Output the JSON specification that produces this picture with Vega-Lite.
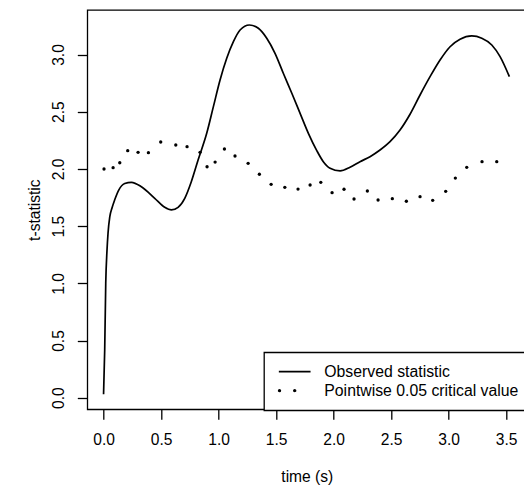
{
  "$schema": "https://vega.github.io/schema/vega-lite/v6.json",
  "autosize": {"type": "none"},
  "padding": {"left": 87.3, "top": 10, "right": -2.3, "bottom": 77.7},
  "width": 439,
  "height": 399.3,
  "background": "white",
  "config": {
    "view": {"stroke": "black", "strokeWidth": 1.3},
    "font": "Liberation Sans"
  },
  "data": {
    "values": [
      {"series": "Observed statistic", "t": 0.0, "v": 0.03},
      {"series": "Observed statistic", "t": 0.010, "v": 0.42},
      {"series": "Observed statistic", "t": 0.019, "v": 1.00},
      {"series": "Observed statistic", "t": 0.030, "v": 1.29},
      {"series": "Observed statistic", "t": 0.039, "v": 1.44},
      {"series": "Observed statistic", "t": 0.054, "v": 1.58},
      {"series": "Observed statistic", "t": 0.074, "v": 1.66},
      {"series": "Observed statistic", "t": 0.097, "v": 1.73},
      {"series": "Observed statistic", "t": 0.132, "v": 1.815},
      {"series": "Observed statistic", "t": 0.184, "v": 1.872},
      {"series": "Observed statistic", "t": 0.242, "v": 1.883},
      {"series": "Observed statistic", "t": 0.329, "v": 1.844},
      {"series": "Observed statistic", "t": 0.445, "v": 1.743},
      {"series": "Observed statistic", "t": 0.532, "v": 1.664},
      {"series": "Observed statistic", "t": 0.590, "v": 1.641},
      {"series": "Observed statistic", "t": 0.648, "v": 1.664},
      {"series": "Observed statistic", "t": 0.706, "v": 1.743},
      {"series": "Observed statistic", "t": 0.763, "v": 1.888},
      {"series": "Observed statistic", "t": 0.822, "v": 2.078},
      {"series": "Observed statistic", "t": 0.897, "v": 2.311},
      {"series": "Observed statistic", "t": 0.955, "v": 2.544},
      {"series": "Observed statistic", "t": 1.013, "v": 2.777},
      {"series": "Observed statistic", "t": 1.071, "v": 2.967},
      {"series": "Observed statistic", "t": 1.129, "v": 3.112},
      {"series": "Observed statistic", "t": 1.187, "v": 3.214},
      {"series": "Observed statistic", "t": 1.268, "v": 3.258},
      {"series": "Observed statistic", "t": 1.346, "v": 3.229},
      {"series": "Observed statistic", "t": 1.419, "v": 3.142},
      {"series": "Observed statistic", "t": 1.491, "v": 3.010},
      {"series": "Observed statistic", "t": 1.563, "v": 2.836},
      {"series": "Observed statistic", "t": 1.637, "v": 2.661},
      {"series": "Observed statistic", "t": 1.709, "v": 2.486},
      {"series": "Observed statistic", "t": 1.781, "v": 2.311},
      {"series": "Observed statistic", "t": 1.854, "v": 2.160},
      {"series": "Observed statistic", "t": 1.911, "v": 2.063},
      {"series": "Observed statistic", "t": 1.970, "v": 2.005},
      {"series": "Observed statistic", "t": 2.057, "v": 1.982},
      {"series": "Observed statistic", "t": 2.143, "v": 2.014},
      {"series": "Observed statistic", "t": 2.230, "v": 2.063},
      {"series": "Observed statistic", "t": 2.317, "v": 2.107},
      {"series": "Observed statistic", "t": 2.404, "v": 2.165},
      {"series": "Observed statistic", "t": 2.491, "v": 2.238},
      {"series": "Observed statistic", "t": 2.578, "v": 2.340},
      {"series": "Observed statistic", "t": 2.665, "v": 2.478},
      {"series": "Observed statistic", "t": 2.752, "v": 2.646},
      {"series": "Observed statistic", "t": 2.839, "v": 2.806},
      {"series": "Observed statistic", "t": 2.926, "v": 2.952},
      {"series": "Observed statistic", "t": 3.013, "v": 3.068},
      {"series": "Observed statistic", "t": 3.100, "v": 3.133},
      {"series": "Observed statistic", "t": 3.202, "v": 3.162},
      {"series": "Observed statistic", "t": 3.289, "v": 3.142},
      {"series": "Observed statistic", "t": 3.376, "v": 3.083},
      {"series": "Observed statistic", "t": 3.448, "v": 2.981},
      {"series": "Observed statistic", "t": 3.529, "v": 2.806},
      {"series": "Pointwise 0.05 critical value", "t": 0.004, "v": 1.999},
      {"series": "Pointwise 0.05 critical value", "t": 0.083, "v": 2.011},
      {"series": "Pointwise 0.05 critical value", "t": 0.141, "v": 2.054},
      {"series": "Pointwise 0.05 critical value", "t": 0.210, "v": 2.159},
      {"series": "Pointwise 0.05 critical value", "t": 0.300, "v": 2.145},
      {"series": "Pointwise 0.05 critical value", "t": 0.390, "v": 2.142},
      {"series": "Pointwise 0.05 critical value", "t": 0.497, "v": 2.235},
      {"series": "Pointwise 0.05 critical value", "t": 0.628, "v": 2.209},
      {"series": "Pointwise 0.05 critical value", "t": 0.726, "v": 2.194},
      {"series": "Pointwise 0.05 critical value", "t": 0.839, "v": 2.145},
      {"series": "Pointwise 0.05 critical value", "t": 0.900, "v": 2.019},
      {"series": "Pointwise 0.05 critical value", "t": 0.970, "v": 2.060},
      {"series": "Pointwise 0.05 critical value", "t": 1.051, "v": 2.174},
      {"series": "Pointwise 0.05 critical value", "t": 1.143, "v": 2.113},
      {"series": "Pointwise 0.05 critical value", "t": 1.257, "v": 2.049},
      {"series": "Pointwise 0.05 critical value", "t": 1.355, "v": 1.953},
      {"series": "Pointwise 0.05 critical value", "t": 1.457, "v": 1.865},
      {"series": "Pointwise 0.05 critical value", "t": 1.576, "v": 1.839},
      {"series": "Pointwise 0.05 critical value", "t": 1.691, "v": 1.824},
      {"series": "Pointwise 0.05 critical value", "t": 1.796, "v": 1.859},
      {"series": "Pointwise 0.05 critical value", "t": 1.889, "v": 1.883},
      {"series": "Pointwise 0.05 critical value", "t": 1.987, "v": 1.792},
      {"series": "Pointwise 0.05 critical value", "t": 2.091, "v": 1.822},
      {"series": "Pointwise 0.05 critical value", "t": 2.178, "v": 1.737},
      {"series": "Pointwise 0.05 critical value", "t": 2.294, "v": 1.807},
      {"series": "Pointwise 0.05 critical value", "t": 2.387, "v": 1.728},
      {"series": "Pointwise 0.05 critical value", "t": 2.511, "v": 1.740},
      {"series": "Pointwise 0.05 critical value", "t": 2.633, "v": 1.717},
      {"series": "Pointwise 0.05 critical value", "t": 2.752, "v": 1.757},
      {"series": "Pointwise 0.05 critical value", "t": 2.862, "v": 1.725},
      {"series": "Pointwise 0.05 critical value", "t": 2.975, "v": 1.804},
      {"series": "Pointwise 0.05 critical value", "t": 3.059, "v": 1.920},
      {"series": "Pointwise 0.05 critical value", "t": 3.158, "v": 2.014},
      {"series": "Pointwise 0.05 critical value", "t": 3.291, "v": 2.063},
      {"series": "Pointwise 0.05 critical value", "t": 3.419, "v": 2.063}
    ]
  },
  "encoding": {
    "x": {
      "field": "t", "type": "quantitative",
      "scale": {"domain": [-0.1414, 3.676], "nice": false, "zero": false},
      "axis": {
        "values": [0, 0.5, 1, 1.5, 2, 2.5, 3, 3.5], "format": ".1f",
        "domain": false, "grid": false, "tickSize": 10, "tickWidth": 1.3, "tickColor": "black",
        "labelFont": "Liberation Sans", "labelFontSize": 15.6, "labelColor": "black",
        "labelBaseline": "alphabetic", "labelPadding": 25, "labelFlush": false, "labelOverlap": false,
        "title": "time (s)", "titleFont": "Liberation Sans", "titleFontSize": 15.6, "titleFontWeight": "normal",
        "titleColor": "black", "titleBaseline": "alphabetic", "titleY": 72.4
      }
    },
    "y": {
      "field": "v", "type": "quantitative",
      "scale": {"domain": [-0.1014, 3.389], "nice": false, "zero": false},
      "axis": {
        "values": [0, 0.5, 1, 1.5, 2, 2.5, 3], "format": ".1f",
        "domain": false, "grid": false, "tickSize": 10, "tickWidth": 1.3, "tickColor": "black",
        "labelFont": "Liberation Sans", "labelFontSize": 15.6, "labelColor": "black",
        "labelAngle": -90, "labelAlign": "center", "labelBaseline": "alphabetic", "labelPadding": 14.3,
        "labelFlush": false, "labelOverlap": false,
        "title": "t-statistic", "titleFont": "Liberation Sans", "titleFontSize": 15.6, "titleFontWeight": "normal",
        "titleColor": "black", "titleAngle": -90, "titleAlign": "center", "titleBaseline": "alphabetic",
        "titleX": -48.3, "titleY": 199.65
      }
    },
    "color": {
      "field": "series", "type": "nominal",
      "scale": {"domain": ["Observed statistic", "Pointwise 0.05 critical value"], "range": ["black", "black"]},
      "legend": {
        "title": null, "orient": "none", "legendX": 176.7, "legendY": 342.3, "direction": "vertical",
        "padding": 10.2, "strokeColor": "black", "fillColor": "white",
        "symbolSize": 1467, "symbolStrokeWidth": 1.7,
        "labelFont": "Liberation Sans", "labelFontSize": 15.8, "labelColor": "black",
        "labelOffset": 9.1, "labelLimit": 0, "rowPadding": 0, "clipHeight": 18.3,
        "encode": {
          "legend": {"update": {"strokeWidth": {"value": 1.3}}},
          "symbols": {"update": {
            "shape": {"signal": "datum.value === 'Observed statistic' ? 'M-0.828,0L0.828,0' : 'M-0.836,0a0.042,0.042 0 1,0 0.084,0a0.042,0.042 0 1,0 -0.084,0ZM-0.042,0a0.042,0.042 0 1,0 0.084,0a0.042,0.042 0 1,0 -0.084,0Z'"},
            "fill": {"value": "black"},
            "stroke": {"value": "black"},
            "strokeWidth": {"value": 1.7},
            "size": {"value": 1467},
            "opacity": {"value": 1}
          }}
        }
      }
    }
  },
  "layer": [
    {
      "transform": [{"filter": "datum.series === 'Observed statistic'"}],
      "mark": {"type": "line", "interpolate": "monotone", "strokeWidth": 1.7}
    },
    {
      "transform": [{"filter": "datum.series === 'Pointwise 0.05 critical value'"}],
      "mark": {"type": "point", "filled": true, "size": 11, "opacity": 1}
    }
  ]
}
